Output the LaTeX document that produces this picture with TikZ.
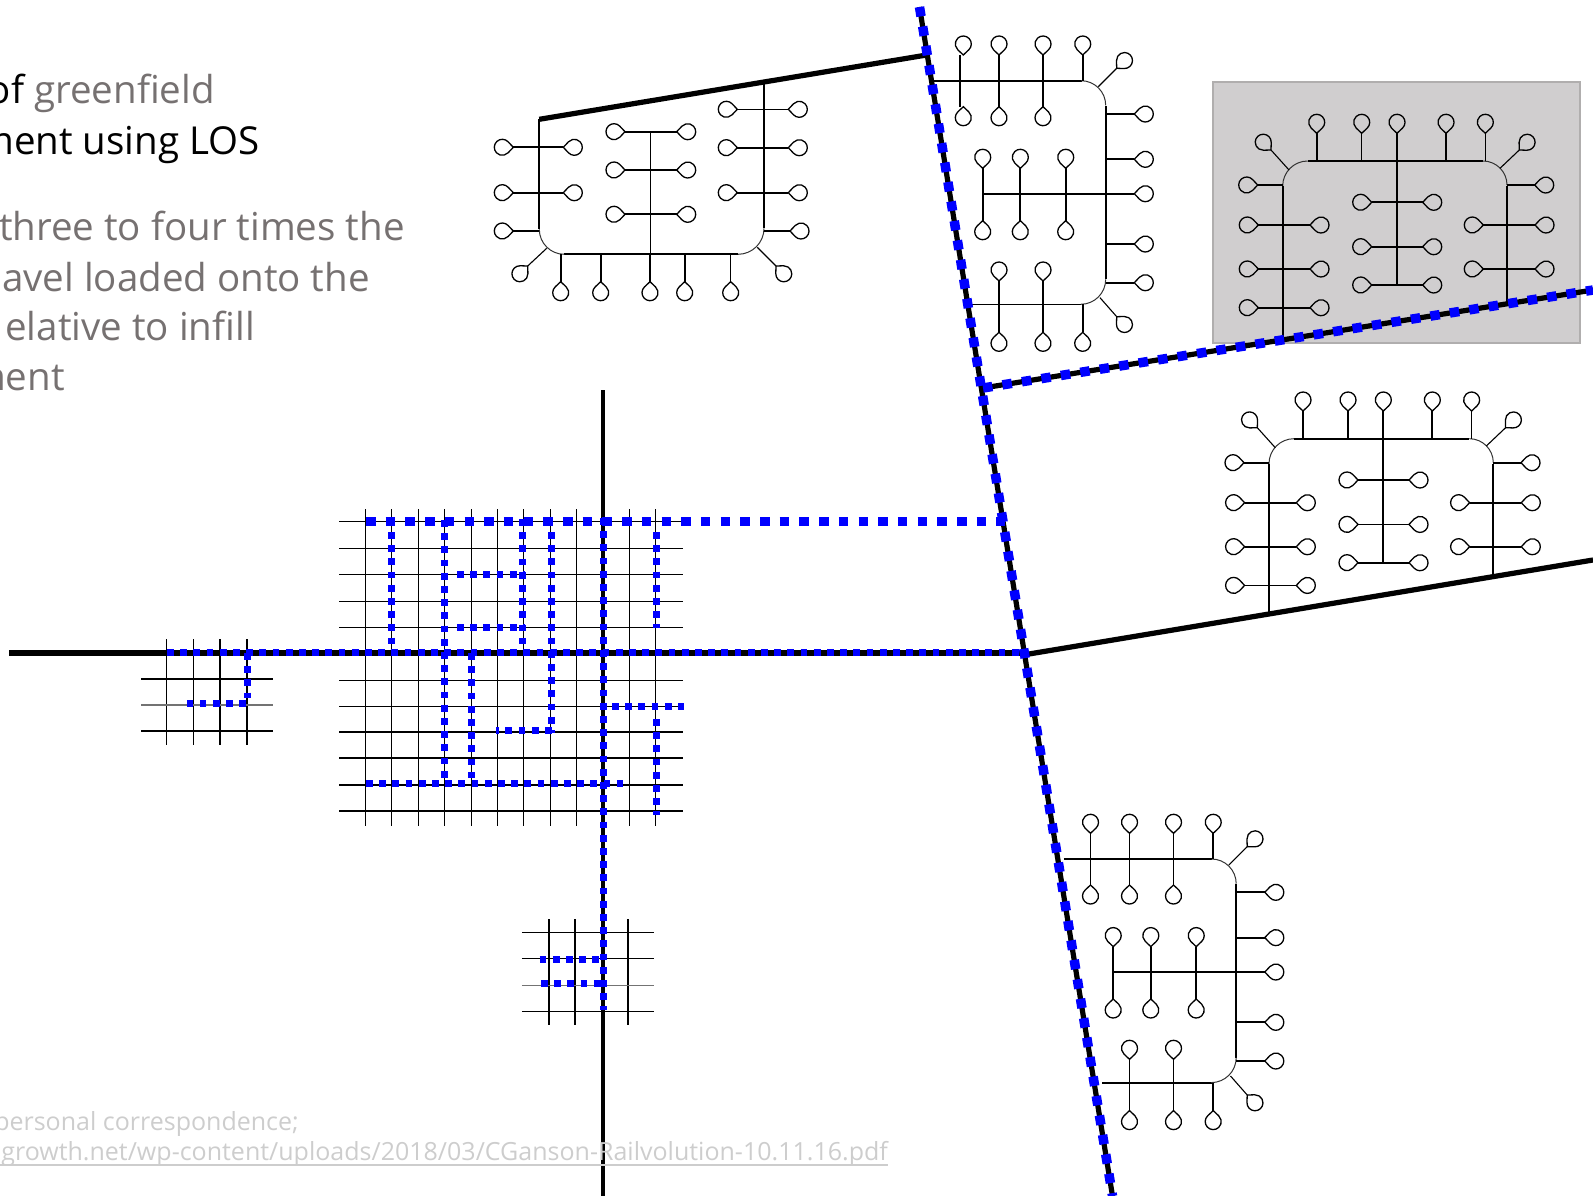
\documentclass[tikz,border=0pt]{standalone}
\usepackage{fontspec}
\setmainfont{Open Sans}
\usepackage{xcolor}
\usepackage{tikz}
\usetikzlibrary{calc}
\definecolor{txtgray}{RGB}{118,113,113}
\definecolor{refgray}{RGB}{205,205,205}
\definecolor{boxfill}{RGB}{208,206,207}
\definecolor{boxline}{RGB}{176,174,174}
\definecolor{railblue}{RGB}{0,0,255}
\tikzset{
  street/.style={line width=1.8pt},
  lane/.style={line width=1.1pt},
  botstreet/.style={street},
  curbarc/.style={line width=1pt,black!80},
  road/.style={line width=5.2pt},
  gridline/.style={line width=1.5pt},
  gridbold/.style={line width=2.2pt},
  railbig/.style={railblue,line width=9.5pt,dash pattern=on 9.5pt off 10.2pt},
  railmid/.style={railblue,line width=7pt,dash pattern=on 6.7pt off 6.5pt},
  lead/.style={inner sep=0pt,anchor=base east,font=\fontsize{38.5}{50}\selectfont},
  refnote/.style={inner sep=0pt,anchor=base east,text=refgray,font=\fontsize{25}{30}\selectfont},
  culdesac/.pic={\draw[line width=1.3pt] (0,0) -- (5.15,5.46)
     arc[start angle=137,end angle=-137,radius=8] -- cycle;},
}
\newcommand{\bulboff}{0}
% bar with a bulb on both ends
\newcommand{\barh}[4][street]{\draw[#1] (#3,#2) -- (#4,#2);
  \pic[rotate=180] at (#3,#2) {culdesac}; \pic at (#4,#2) {culdesac};}
\newcommand{\barv}[4][street]{\draw[#1] (#2,#3) -- (#2,#4);
  \pic[rotate=90] at (#2,#3) {culdesac}; \pic[rotate=270] at (#2,#4) {culdesac};}
% parcel with the road on its left
\tikzset{
  parcelleft/.pic={
    \draw[street] (933.3,80.7) -- (1081.7,80.7);
    \draw[street] (1105.7,106) -- (1105.7,279.3);
    \draw[botstreet] (971.7,304.4) -- (1081,304.4);
    \draw[curbarc] (1081,80.7) arc[start angle=-90,end angle=0,radius=24.7];
    \draw[curbarc] (1105.7,279.3) arc[start angle=0,end angle=90,radius=25];
    \draw[street] (960,55) -- (960,106.7);
    \pic[rotate=90] at (960+\bulboff,55) {culdesac};
    \pic[rotate=270] at (960+\bulboff,106.7) {culdesac};
    \foreach \x in {999,1043} {\barv{\x}{55}{106.7}}
    \barv{982.7}{168.3}{220.7}
    \barv{1020.3}{168.3}{220.7}
    \barv{1065.7}{168.3}{220.7}
    \foreach \x in {999,1043} {\barv{\x}{281}{332.3}}
    \draw[street] (1082.7,55) -- (1082.7,80.7);
    \pic[rotate=90] at (1082.7,55) {culdesac};
    \draw[street] (1082.7,304.4) -- (1082.7,332.3);
    \pic[rotate=270] at (1082.7,332.3) {culdesac};
    \draw[street] (982.7,193.7) -- (1134.3,193.7);
    \pic at (1134.3,193.7) {culdesac};
    \foreach \y in {114,159.3,244,282.7} {
      \draw[street] (1105.7,\y) -- (1134.3,\y);
      \pic at (1134.3,\y) {culdesac};
    }
    \draw[lane] (1098.3,86.7) -- (1116.7,68.3);
    \pic[rotate=45] at (1116.7,68.3) {culdesac};
    \draw[lane] (1100,297.7) -- (1116.7,316.7);
    \pic[rotate=-45] at (1116.7,316.7) {culdesac};
  },
  parceltop/.pic={
    \draw[street] (1307.7,161) -- (1483,161);
    \draw[curbarc] (1282.7,186) arc[start angle=180,end angle=270,radius=25];
    \draw[curbarc] (1483,161) arc[start angle=270,end angle=360,radius=24];
    \draw[street] (1397,133.3) -- (1397,286);
    \pic[rotate=90] at (1397,133.3) {culdesac};
    \foreach \x/\s in {1316.7/street,1361.7/lane,1446/street,1485.3/lane} {
      \draw[\s] (\x,133.3) -- (\x,161);
      \pic[rotate=90] at (\x,133.3) {culdesac};
    }
    \draw[lane] (1289,170) -- (1271,150);
    \pic[rotate=135] at (1271,150) {culdesac};
    \draw[lane] (1500,168.3) -- (1519.3,150);
    \pic[rotate=45] at (1519.3,150) {culdesac};
    \draw[street] (1257.7,185) -- (1282.7,185);
    \pic[rotate=180] at (1257.7,185) {culdesac};
    \draw[street] (1506.7,185) -- (1534.7,185);
    \pic at (1534.7,185) {culdesac};
    \foreach \y in {225,269,307.7} {\barh{\y}{1258.3}{1310}}
    \foreach \y in {202.3,246.7,285} {\barh{\y}{1371.7}{1422.7}}
    \foreach \y in {225,269} {\barh{\y}{1483.3}{1535}}
  },
}
\begin{document}
\begin{tikzpicture}[x=1pt,y=-1pt]
  \useasboundingbox (0,0) rectangle (1593,1196);
  \clip (0,0) rectangle (1593,1196);
  % text
  \node[lead] (txtone) at (215,104) {of \textcolor{txtgray}{greenfield}};
  \node[lead] (txttwo) at (260,154) {ment using LOS};
  \node[lead,text=txtgray] (txtthree) at (405,240) {three to four times the};
  \node[lead,text=txtgray] (txtfour) at (370,291) {avel loaded onto the};
  \node[lead,text=txtgray] (txtfive) at (255,340) {elative to infill};
  \node[lead,text=txtgray] (txtsix) at (65,390) {ment};
  % shaded parcel
  \draw[fill=boxfill,draw=boxline,line width=1.8pt] (1213.3,81.7) rectangle (1580,343.3);
  % parcel upper left
  \draw[street] (539.3,119.3) -- (539.3,229.3);
  \draw[street] (564.3,254.3) -- (738,254.3);
  \draw[street] (764,83.3) -- (764,228.3);
  \draw[curbarc] (539.3,229.3) arc[start angle=180,end angle=90,radius=25];
  \draw[curbarc] (738,254.3) arc[start angle=90,end angle=0,radius=26];
  \foreach \y in {147.3,192.7} {\barh{\y}{513.3}{563.3}}
  \draw[lane] (513.3,231) -- (539.3,231);
  \pic[rotate=180] at (513.3,231) {culdesac};
  \draw[lane] (650.3,131.7) -- (650.3,254.3);
  \barh{131.7}{625}{676.7}
  \barh[lane]{170}{625}{676.7}
  \barh{214.3}{625}{676.7}
  \barh[lane]{109.3}{737.3}{788.3}
  \barh{147.7}{737.3}{788.3}
  \barh{192.7}{737.3}{788.3}
  \draw[lane] (764,231) -- (790,231);
  \pic at (790,231) {culdesac};
  \draw[lane] (546.7,248.3) -- (527.7,266);
  \pic[rotate=225] at (527.7,266) {culdesac};
  \draw[lane] (757.3,247.3) -- (776,266);
  \pic[rotate=-45] at (776,266) {culdesac};
  \foreach \x/\s in {560.7/street,600.7/street,650/street,684.7/street,730.7/lane} {
    \draw[\s] (\x,254.3) -- (\x,281.7);
    \pic[rotate=270] at (\x,281.7) {culdesac};
  }
  % parcels along the road
  \begin{scope}[botstreet/.style={lane}]
    \renewcommand{\bulboff}{3.3}
    \pic at (0,0) {parcelleft};
  \end{scope}
  \pic at (130.5,778.3) {parcelleft};
  \pic at (0,0) {parceltop};
  \draw[street] (1282.7,186) -- (1282.7,340);
  \draw[street] (1506.7,186) -- (1506.7,304);
  \pic at (-13.7,277.7) {parceltop};
  \draw[street] (1269,463.7) -- (1269,614);
  \draw[street] (1493,463.7) -- (1493,577);
  % main grid
  \foreach \x in {365.3,391.3,418.3,444.3,471.3,497.3,523.3,550.3,576.3,629.3,655.7}
    \draw[gridline] (\x,509) -- (\x,825.7);
  \foreach \y in {521.7,548.3,574.3,601.3,627.3,680.3,706.3}
    \draw[gridline] (339,\y) -- (682.7,\y);
  \foreach \y in {731.7,757.7,785,811}
    \draw[gridbold] (339,\y) -- (682.7,\y);
  % left grid
  \foreach \x in {166.7,193.7,220,247}
    \draw[gridline] (\x,639) -- (\x,745);
  \foreach \y/\c in {679/black,705/black!55,731/black}
    \draw[gridline,\c] (141,\y) -- (272.7,\y);
  % lower grid
  \foreach \x in {548.8,575.2,601.6,628}
    \draw[gridline] (\x,919) -- (\x,1025);
  \foreach \y/\c in {932.3/black,958.3/black,985.7/black!55,1011.3/black}
    \draw[gridline,\c] (521.8,\y) -- (653.8,\y);
  % roads
  \draw[road] (919.5,7) -- (1112.5,1196);
  \draw[road] (926.7,55) -- (539.3,119.3);
  \draw[road] (983,388) -- (1593,290);
  \draw[road] (1026,654.5) -- (1593,560);
  \draw[road] (9,653) -- (1026,653);
  \draw[road,line width=4.2pt] (603,390) -- (603,1196);
  % rail
  \draw[railbig] (919.5,7) -- (1112.5,1196);
  \draw[railbig] (983,388) -- (1593,290);
  \draw[railbig] (366,521.7) -- (1005,521.7);
  \draw[railmid] (167,652.7) -- (1026,652.7);
  \draw[railmid] (603,518) -- (603,1010);
  \foreach \xa/\ya/\xb/\yb in {391.7/532/391.7/644,444.7/520/444.7/778,471.3/653/471.3/778,
      522.7/519/522.7/644,551/532/551/733,551.7/730/496/730,457/574.3/525/574.3,457/627.3/525/627.3,
      656/532/656/628,656/719/656/815,612/706/684/706,366/783.3/623/783.3,
      247/653/247/698,246/703.3/187/703.3,539.6/959.3/599/959.3,541/983.7/602/983.7}
    \draw[railmid] (\xa,\ya) -- (\xb,\yb);
  % reference
  \node[refnote] (refone) at (299,1130) {personal correspondence;};
  \node[refnote] (reftwo) at (888,1160) {growth.net/wp-content/uploads/2018/03/CGanson-Railvolution-10.11.16.pdf};
  \draw[refgray,line width=1.6pt] (0,1165) -- (888,1165);
\end{tikzpicture}
\end{document}
